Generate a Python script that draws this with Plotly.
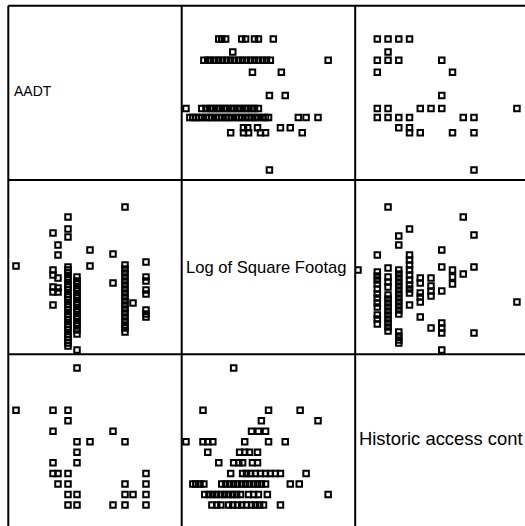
import plotly.graph_objects as go

# ---------------- data ----------------
# AADT vs Log of Square Footage (rows 1-2 / cols 1-2)
aadt_a = [2000,
          11250, 11250, 11250, 11250, 11250, 11250,
          12500, 12500, 12500, 12500, 12500,
          15000, 15000, 15000, 15000, 15000, 15000, 15000, 15000, 15000, 15000,
          15000, 15000, 15000, 15000, 15000, 15000, 15000, 15000, 15000, 15000,
          15000, 15000, 15000, 15000, 15000, 15000, 15000, 15000,
          17250, 17250, 17250, 17250, 17250, 17250, 17250, 17250, 17250, 17250,
          17250, 17250, 17250, 17250, 17250, 17250, 17250, 17250,
          20500, 20500,
          26250, 26250,
          29250, 29250, 29250, 29250, 29250, 29250, 29250, 29250, 29250, 29250,
          29250, 29250, 29250, 29250, 29250, 29250, 29250, 29250, 29250,
          31250,
          34500, 34500, 34500, 34500, 34500, 34500, 34500, 34500]
logsf_a = [10.80,
           11.90, 10.67, 10.50, 10.10, 9.93, 9.50,
           11.50, 11.17, 10.40, 10.07, 9.93,
           12.43, 12.03, 11.77, 10.77, 10.67, 10.57, 10.43, 10.33, 10.20, 10.10,
           10.00, 9.87, 9.77, 9.67, 9.53, 9.43, 9.33, 9.20, 9.10, 9.00,
           8.87, 8.77, 8.67, 8.53, 8.43, 8.33, 8.23, 8.13,
           10.43, 10.30, 10.20, 10.07, 9.97, 9.83, 9.73, 9.60, 9.50, 9.37,
           9.27, 9.13, 9.03, 8.90, 8.80, 8.67, 8.53, 8.00,
           11.33, 10.80,
           11.20, 10.23,
           12.77, 10.83, 10.70, 10.57, 10.43, 10.30, 10.17, 10.03, 9.90, 9.77,
           9.63, 9.50, 9.37, 9.23, 9.10, 8.97, 8.83, 8.73, 8.60,
           9.57,
           10.93, 10.43, 10.30, 10.00, 9.87, 9.33, 9.20, 9.10]

# Historic access control vs Log of Square Footage (rows 2-3 / cols 2-3)
hac_b = [0, 0, 0, 0, 0, 0, 0, 0, 0, 0, 0, 0, 0,
         1, 1, 1, 1, 1, 1, 1, 1, 1, 1, 1, 1, 1, 1, 1,
         2, 2, 2, 2, 2, 2, 2, 2, 2, 2, 2, 2, 2, 2, 2, 2, 2, 2,
         3, 3, 3, 3, 3, 3, 3, 3, 3, 3, 3,
         4, 4, 4, 4, 4, 4,
         5, 5, 5, 5, 5,
         6, 6, 6, 6, 6, 6, 6,
         7, 7, 7,
         8, 8,
         9, 9, 9,
         13]
logsf_b = [11.17, 10.60, 10.47, 10.33, 10.20, 10.03, 9.87, 9.73, 9.57, 9.43, 9.17, 9.03, 8.87,
           12.77, 10.73, 10.43, 10.27, 10.10, 9.83, 9.70, 9.57, 9.43, 9.30, 9.17, 9.03, 8.90, 8.77, 8.63,
           11.80, 11.50, 10.67, 10.53, 10.40, 10.27, 10.13, 10.00, 9.87, 9.73, 9.60, 9.47, 9.33, 9.20,
           8.60, 8.47, 8.33, 8.23,
           12.03, 11.17, 11.00, 10.83, 10.67, 10.50, 10.33, 10.17, 10.03, 9.90, 9.50,
           10.40, 10.23, 9.90, 9.77, 9.60, 9.10,
           10.40, 10.13, 9.97, 9.80, 8.73,
           11.33, 10.77, 9.97, 8.90, 8.73, 8.57, 8.00,
           10.67, 10.43, 10.20,
           12.43, 10.53,
           11.83, 10.77, 8.57,
           9.60]

# stray mark at the left edge of the HAC / Log SF panel
hac_edge = [-1.8]
logsf_edge = [10.67]

# AADT vs Historic access control (rows 1,3 / cols 1,3)
aadt_c = [2000,
          11250, 11250, 11250, 11250,
          12500, 12500,
          15000, 15000, 15000, 15000, 15000, 15000,
          17250, 17250, 17250, 17250, 17250, 17250,
          20500,
          26250, 26250,
          29250, 29250, 29250, 29250,
          31250,
          34500, 34500, 34500, 34500]
hac_c = [9,
         9, 7, 4, 3,
         3, 2,
         9, 8, 3, 2, 1, 0,
         13, 6, 5, 4, 1, 0,
         6,
         7, 0,
         6, 2, 1, 0,
         1,
         3, 2, 1, 0]

var_labels = ["AADT", "Log of Square Footag", "Historic access cont"]

# ---------------- layout helpers ----------------
W, H = 525, 526


def fx(p):
    return p / W


def fy(p):
    return 1 - p / H


col_edges = [8.3, 181.7, 355.2, 525.0]
row_edges = [5.8, 180.0, 354.2, 526.0]

marker = dict(symbol="square-open", size=5.5, color="black", line=dict(width=2, color="black"))

fig = go.Figure()


def add(x, y, xa, ya):
    fig.add_trace(go.Scatter(x=x, y=y, mode="markers", marker=marker,
                             xaxis=xa, yaxis=ya, showlegend=False, hoverinfo="skip"))


add(logsf_a, aadt_a, "x2", "y")
add(hac_c, aadt_c, "x3", "y")
add(aadt_a, logsf_a, "x", "y2")
add(hac_b, logsf_b, "x3", "y2")
add(hac_edge, logsf_edge, "x3", "y2")
add(aadt_c, hac_c, "x", "y3")
add(logsf_b, hac_b, "x2", "y3")

ax_common = dict(visible=False, fixedrange=True)

fig.update_layout(
    width=W, height=H,
    margin=dict(l=0, r=0, t=0, b=0),
    paper_bgcolor="white", plot_bgcolor="white",
    xaxis=dict(domain=[fx(col_edges[0]), fx(col_edges[1])], range=[75, 43425], anchor="y3", **ax_common),
    xaxis2=dict(domain=[fx(col_edges[1]), fx(col_edges[2])], range=[7.856, 13.678], anchor="y3", **ax_common),
    xaxis3=dict(domain=[fx(col_edges[2]), fx(col_edges[3])], range=[-2.058, 13.75], anchor="y3", **ax_common),
    yaxis=dict(domain=[fy(row_edges[1]), fy(row_edges[0])], range=[-481, 42736], anchor="x", **ax_common),
    yaxis2=dict(domain=[fy(row_edges[2]), fy(row_edges[1])], range=[7.86, 13.667], anchor="x", **ax_common),
    yaxis3=dict(domain=[fy(row_edges[3]), fy(row_edges[2])], range=[-1.99, 14.31], anchor="x", **ax_common),
)

# frame lines
shapes = []
for cx in col_edges[:3]:
    shapes.append(dict(type="line", xref="paper", yref="paper",
                       x0=fx(cx), x1=fx(cx), y0=fy(row_edges[0]), y1=0,
                       line=dict(color="black", width=2)))
for ry in row_edges[:3]:
    shapes.append(dict(type="line", xref="paper", yref="paper",
                       x0=fx(col_edges[0]), x1=1, y0=fy(ry), y1=fy(ry),
                       line=dict(color="black", width=2)))
fig.update_layout(shapes=shapes)

# diagonal labels
label_pos = [(12, 91, 14), (184, 267, 16.6), (357, 438, 18.4)]
for text, (lx, ly, fs) in zip(var_labels, label_pos):
    fig.add_annotation(text=text, x=fx(lx), y=fy(ly), xref="paper", yref="paper",
                       xanchor="left", yanchor="middle", showarrow=False,
                       font=dict(family="Liberation Sans, Arial", size=fs, color="black"))

fig.write_html("out.html", config={"displayModeBar": False},
               post_script="document.body.style.margin='0';document.body.style.overflow='hidden';")
